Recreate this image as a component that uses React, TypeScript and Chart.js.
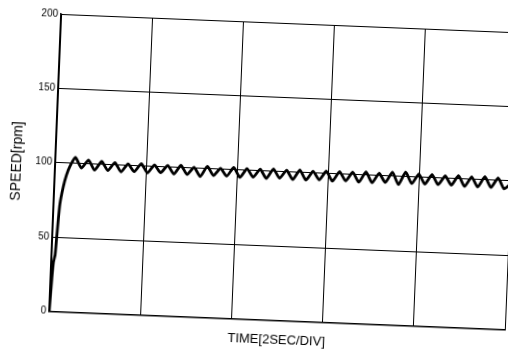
import React, { useEffect, useRef } from "react";
import { Chart, registerables } from "chart.js";

Chart.register(...registerables);

const yTickValues = [0, 50, 100, 150, 200];
const xTitle = "TIME[2SEC/DIV]";
const yTitle = "SPEED[rpm]";

const times = [
  0, 0.03, 0.05, 0.08, 0.1, 0.14, 0.2, 0.26, 0.33, 0.44,
  0.58, 0.73, 0.87, 1.02, 1.16, 1.31, 1.45, 1.6, 1.74, 1.89,
  2.03, 2.18, 2.32, 2.47, 2.61, 2.76, 2.9, 3.05, 3.19, 3.34,
  3.48, 3.63, 3.77, 3.92, 4.06, 4.21, 4.35, 4.5, 4.64, 4.79,
  4.93, 5.08, 5.22, 5.37, 5.51, 5.66, 5.8, 5.95, 6.09, 6.24,
  6.38, 6.53, 6.67, 6.82, 6.96, 7.11, 7.25, 7.4, 7.54, 7.69,
  7.83, 7.98, 8.12, 8.27, 8.41, 8.56, 8.7, 8.85, 8.99, 9.14,
  9.28, 9.43, 9.57, 9.72, 9.86, 10.0,
];

const speeds = [
  0, 22, 33, 38, 50, 72, 84, 92, 98, 104,
  97, 102.5, 96, 102, 96, 101.5, 95.5, 101, 96, 101.5,
  95.5, 101, 96, 101, 95.5, 101.5, 95.5, 100.5, 94.5, 101.5,
  95.5, 100.5, 95.5, 101.5, 95, 101, 95.5, 101, 95, 101.5,
  95.5, 101, 95, 101.5, 95, 101, 95.5, 101.5, 95, 101.5,
  95.5, 101.5, 95, 102, 95, 101.5, 95.5, 102.5, 94.5, 103,
  95.5, 102, 95.5, 102, 95.5, 101.5, 95.5, 102, 95, 101.5,
  95, 102, 95, 101.5, 94.5, 98,
];

export default function App() {
  const ref = useRef<HTMLCanvasElement | null>(null);

  useEffect(() => {
    if (!ref.current) return;
    const points = times.map((t, i) => ({ x: t, y: speeds[i] }));
    const font = "'Liberation Sans', Arial, sans-serif";
    const chart = new Chart(ref.current, {
      type: "line",
      data: {
        datasets: [
          {
            data: points,
            borderColor: "#000",
            borderWidth: 2.8,
            pointRadius: 0,
            tension: 0.2,
            fill: false,
          },
        ],
      },
      options: {
        animation: false,
        responsive: false,
        layout: { padding: { top: 23, right: 19, bottom: 8, left: 0 } },
        plugins: { legend: { display: false }, tooltip: { enabled: false } },
        scales: {
          x: {
            type: "linear",
            min: 0,
            max: 10,
            ticks: { display: false, stepSize: 2 },
            grid: { color: "#000", lineWidth: 1, drawTicks: false },
            border: { color: "#000", width: 1.5 },
            title: {
              display: true,
              text: xTitle,
              color: "#000",
              font: { family: font, size: 13 },
              padding: { top: 12, bottom: 4 },
            },
          },
          y: {
            min: 0,
            max: 200,
            afterBuildTicks: (scale: any) => {
              scale.ticks = yTickValues.map((v) => ({ value: v }));
            },
            afterFit: (scale: any) => {
              scale.width = 55;
            },
            ticks: {
              color: "#000",
              font: { family: font, size: 10 },
              padding: 3,
            },
            grid: { color: "#000", lineWidth: 1, drawTicks: false },
            border: { color: "#000", width: 1.5 },
            title: {
              display: true,
              text: yTitle,
              color: "#000",
              font: { family: font, size: 14 },
              padding: { top: 9, bottom: 4 },
            },
          },
        },
      },
    });
    return () => chart.destroy();
  }, []);

  return (
    <div
      style={{
        position: "fixed",
        left: 0,
        top: 0,
        width: 530,
        height: 360,
        background: "#fff",
        transform: "rotate(2.3deg)",
        transformOrigin: "283px 171px",
      }}
    >
      <canvas ref={ref} width={530} height={360} />
    </div>
  );
}
